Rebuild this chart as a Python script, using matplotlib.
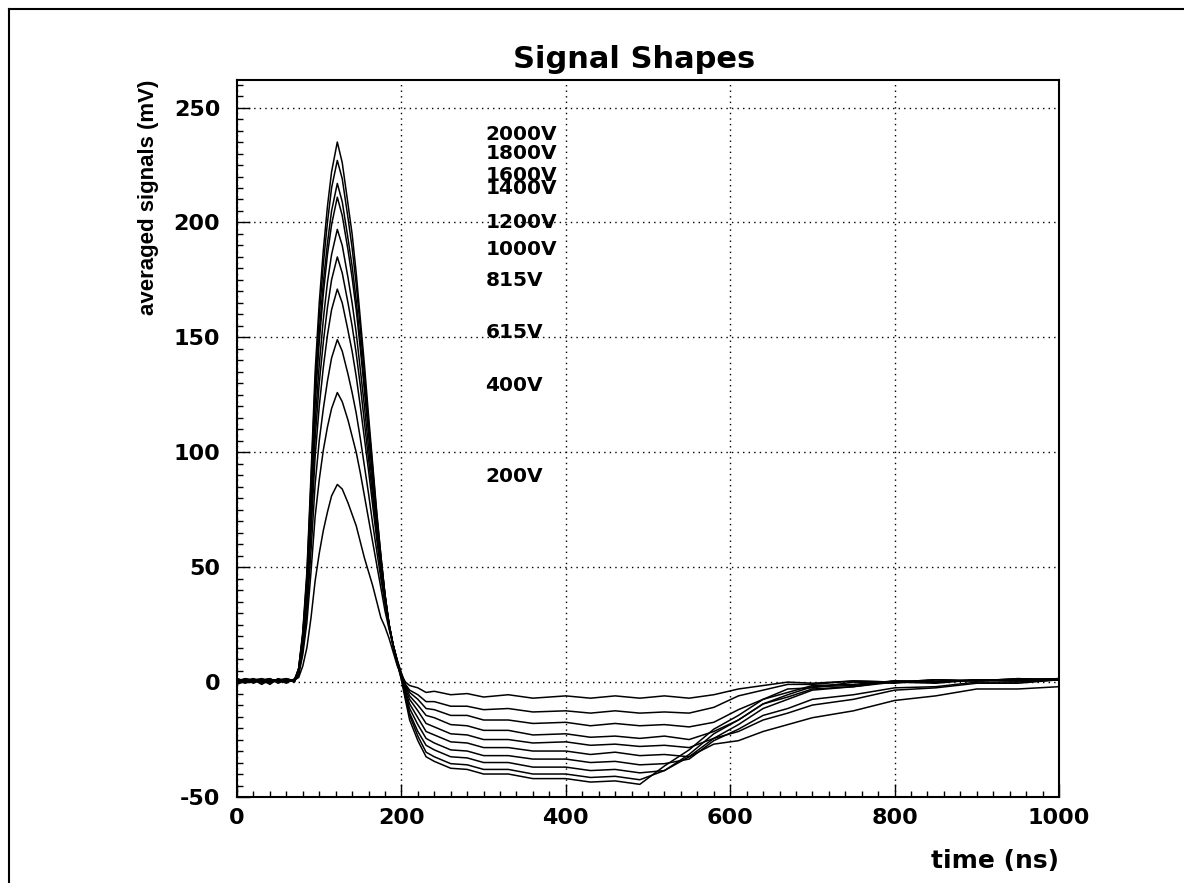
import matplotlib
matplotlib.use("Agg")
import matplotlib.pyplot as plt
from matplotlib.lines import Line2D
from matplotlib.ticker import MultipleLocator

plt.rcParams["axes.unicode_minus"] = False

# time axis shared by all averaged pulses (ns)
time_ns = [0, 10, 20, 30, 40, 50, 60, 70,
           75, 80, 85, 90, 95, 100, 105, 110, 115, 122,
           128, 135, 140, 145, 150, 155, 160, 165, 170, 175, 180, 185, 190, 195, 200,
           205, 210, 220, 230, 240, 260, 280, 300, 330, 360, 400, 430, 460, 490,
           520, 550, 580, 610, 640, 670, 700, 750, 800, 850, 900, 950, 1000]

# averaged signal (mV) per high voltage setting
v200 = [0.5, 1.0, -0.5, 1.5, 0.0, 1.0, 0.5, 1.0,
        2, 7, 15, 28, 44, 56, 66, 74, 81, 86,
        84, 78, 73, 68, 61, 54, 48, 42, 35, 28, 24, 19, 13, 7, 3,
        0, -1.5, -2.5, -4.5, -4, -5.5, -5, -6.5, -5.5, -7, -6, -7, -6, -7,
        -6, -7, -5.5, -3, -1.5, 0, -0.5, 0.5, 0, 1, 0.5, 1, 1.5]
v400 = [1.0, 0.0, 1.5, -0.5, 1.0, 0.5, 1.5, 0.5,
        3, 12, 26, 48, 72, 88, 101, 111, 119, 126,
        122, 114, 107, 100, 91, 81, 71, 61, 51, 41, 31, 23, 16, 9.5, 4,
        -1, -3.5, -5.5, -8.5, -8.5, -10.5, -10.5, -12, -11.5, -13, -12.5, -13.5, -12.5, -13.5,
        -13, -13.5, -11, -6, -3.5, -1, -1, 0.5, 0, 1, 0.5, 1.5, 1]
v615 = [-0.5, 1.0, 0.5, 1.0, -1.0, 1.5, 0.0, 1.0,
        4, 14, 30, 57, 86, 105, 119, 131, 141, 149,
        144, 134, 126, 117, 106, 94, 82, 69, 57, 45, 34, 24, 16, 9, 3.5,
        -1.5, -4.5, -7.5, -11.5, -12, -14.5, -14.5, -16.5, -16.5, -18, -17.5, -19, -18, -19,
        -18.5, -19.5, -17.5, -12, -7.5, -3, -2.5, 0, -0.5, 1, 0.5, 1.5, 1]
v815 = [1.5, 0.5, 0.0, 1.0, 1.5, -0.5, 1.0, 0.5,
        4, 16, 35, 65, 98, 120, 137, 151, 162, 171,
        165, 153, 144, 133, 120, 106, 92, 77, 62, 48, 35, 24, 16, 9, 3,
        -2, -6, -10, -14.5, -15.5, -18.5, -19, -21, -21, -23, -22.5, -24, -23.5, -24.5,
        -23.5, -25, -21.5, -16.5, -9.5, -6.5, -3, -2, 0.5, 0, 1, 0.5, 1.5]
v1000 = [0.0, 1.5, 1.0, 0.0, 0.5, 1.0, -0.5, 1.5,
         5, 17, 38, 71, 106, 130, 148, 163, 175, 185,
         178, 165, 155, 143, 129, 113, 97, 81, 65, 50, 36, 25, 16, 9, 3,
         -3, -7.5, -12.5, -18, -19.5, -22.5, -23, -25, -25, -26.5, -26, -27.5, -27, -28,
         -27.5, -28.5, -24.5, -21.5, -16.5, -13.5, -10, -7.5, -3.5, -2.5, -0.5, -0.5, 1]
v1200 = [1.0, -0.5, 1.0, 1.5, 0.0, 0.5, 1.0, 0.0,
         5, 18, 40, 75, 113, 138, 158, 174, 186, 197,
         190, 176, 165, 152, 136, 120, 102, 85, 68, 52, 37, 25, 16, 9, 2.5,
         -4, -9.5, -15.5, -21.5, -23, -26, -26.5, -28.5, -28.5, -30, -30, -31.5, -30.5, -32,
         -31.5, -32.5, -27, -25.5, -21.5, -18.5, -15.5, -12.5, -8, -6, -3, -3, -2]
v1400 = [0.5, 1.5, 0.0, 0.5, 1.5, 0.0, 0.5, 1.0,
         5, 20, 43, 81, 121, 148, 169, 186, 199, 211,
         203, 188, 176, 162, 145, 127, 108, 89, 70, 53, 38, 25, 16, 9, 2,
         -5, -11.5, -18.5, -24.5, -26.5, -29.5, -30, -32, -32, -33.5, -33.5, -35, -34.5, -36,
         -35.5, -33.5, -25.5, -20.5, -14.5, -11.5, -7.5, -5.5, -2.5, -2, 0, 0, 1]
v1600 = [-1.0, 0.5, 1.5, 0.0, 1.0, 1.0, 1.5, 0.5,
         6, 20, 44, 83, 125, 152, 174, 191, 205, 217,
         209, 193, 181, 166, 148, 129, 110, 90, 71, 54, 38, 25, 16, 9, 2,
         -6, -13.5, -21.5, -27.5, -29.5, -32.5, -33, -35, -35, -37, -37, -38.5, -38, -39.5,
         -38.5, -32.5, -24.5, -18.5, -11.5, -7.5, -3.5, -2, 0, -0.5, 1, 0.5, 1.5]
v1800 = [1.5, 0.0, 0.5, 1.0, -0.5, 1.5, 0.0, 1.0,
         6, 21, 46, 87, 130, 159, 182, 200, 215, 227,
         219, 202, 189, 173, 154, 134, 113, 93, 73, 55, 38, 25, 16, 8, 1.5,
         -7, -14.5, -23.5, -30.5, -32.5, -35.5, -36, -38, -38, -40, -40, -41.5, -41, -42.5,
         -38.5, -31.5, -22.5, -16.5, -9.5, -5.5, -2, -1.5, 0.5, 0, 1, 0.5, 1]
v2000 = [0.0, 1.0, 1.0, -1.0, 1.0, 0.0, 1.0, 0.5,
         6, 22, 48, 90, 135, 165, 188, 207, 222, 235,
         226, 208, 195, 178, 158, 138, 116, 95, 74, 55, 38, 25, 15, 8, 1,
         -8, -16.5, -25.5, -32.5, -34.5, -37.5, -38, -40, -40, -42, -42, -43.5, -43, -44.5,
         -36.5, -29.5, -20.5, -14.5, -7.5, -4.5, -1.5, -1, 0.5, 0, 1, 1, 1.5]

voltages = ["200V", "400V", "615V", "815V", "1000V",
            "1200V", "1400V", "1600V", "1800V", "2000V"]
signals = [v200, v400, v615, v815, v1000, v1200, v1400, v1600, v1800, v2000]
label_x = 302
label_y = [89.3, 129.1, 152.3, 174.8, 188.1, 199.9, 214.6, 220.4, 230.1, 238.3]

fig = plt.figure(figsize=(11.84, 8.83), dpi=100)
ax = fig.add_axes([0.2002, 0.0974, 0.6942, 0.812])

for v in signals:
    ax.plot(time_ns, v, color="black", lw=1.1)

for name, y in zip(voltages, label_y):
    ax.text(label_x, y, name, ha="left", va="center",
            fontsize=14.5, fontweight="bold", family="DejaVu Sans")

ax.set_xlim(0, 1000)
ax.set_ylim(-50, 262)
ax.xaxis.set_major_locator(MultipleLocator(200))
ax.xaxis.set_minor_locator(MultipleLocator(20))
ax.yaxis.set_major_locator(MultipleLocator(50))
ax.yaxis.set_minor_locator(MultipleLocator(5))
ax.tick_params(which="both", direction="in", top=False, right=False,
               color="black", width=1.0)
ax.tick_params(which="major", length=9.5)
ax.tick_params(which="minor", length=4.5)
ax.tick_params(axis="x", which="major", pad=8, labelsize=16)
ax.tick_params(axis="y", which="major", pad=12, labelsize=16)
for lab in ax.get_xticklabels() + ax.get_yticklabels():
    lab.set_fontweight("bold")
    lab.set_family("DejaVu Sans")
for sp in ax.spines.values():
    sp.set_linewidth(1.5)

ax.grid(True, which="major", color="black", linestyle=(0, (1, 3)), lw=1.0)

ax.set_xlabel("time (ns)", fontsize=18, fontweight="bold", family="DejaVu Sans")
ax.xaxis.set_label_coords(1.0, -0.072)
ax.xaxis.label.set_ha("right")
ax.set_ylabel("averaged signals (mV)", fontsize=16, fontweight="bold",
              family="Liberation Sans")
ax.yaxis.set_label_coords(-0.108, 1.0)
ax.yaxis.label.set_va("center")
ax.yaxis.label.set_ha("right")

fig.text(0.536, 0.923, "Signal Shapes", ha="center", va="baseline",
         fontsize=22, fontweight="bold", family="DejaVu Sans")

# canvas border (top and left edges)
fig.add_artist(Line2D([0.0076, 0.0076], [0.0, 0.9898],
                      transform=fig.transFigure, color="black", lw=1.5))
fig.add_artist(Line2D([0.0076, 1.0], [0.9898, 0.9898],
                      transform=fig.transFigure, color="black", lw=1.5))

fig.savefig("out.png", dpi=100)
